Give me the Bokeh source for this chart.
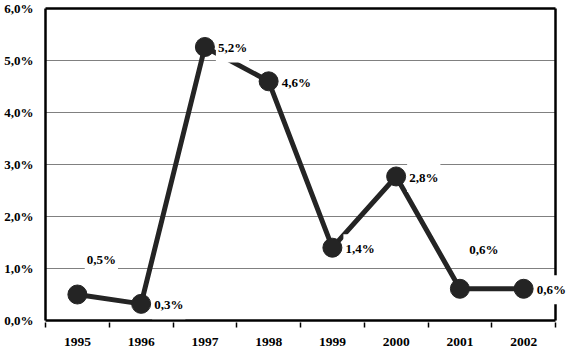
from bokeh.plotting import figure
from bokeh.models import Range1d, FixedTicker, Label, ColumnDataSource
from bokeh.embed import file_html
from bokeh.resources import INLINE

# ---- data ----
years = ["1995", "1996", "1997", "1998", "1999", "2000", "2001", "2002"]
values = [0.50, 0.32, 5.26, 4.60, 1.40, 2.77, 0.61, 0.61]
value_labels = ["0,5%", "0,3%", "5,2%", "4,6%", "1,4%", "2,8%", "0,6%", "0,6%"]
y_ticks = [0, 1, 2, 3, 4, 5, 6]
y_tick_labels = ["0,0%", "1,0%", "2,0%", "3,0%", "4,0%", "5,0%", "6,0%"]

# ---- layout / style ----
FONT = "Liberation Serif"
DARK = "#242424"
# labels placed above the point (index -> upward offset in px); others go right
labels_above = {0: 35, 6: 39}

n = len(years)
xs = [i + 0.5 for i in range(n)]
src = ColumnDataSource(dict(x=xs, y=values))

# plot box spans 0..n by y_ticks[0]..y_ticks[-1]; the frame is a bit larger so
# the box borders (and the last label) are not clipped
px_x = 510 / n            # pixels per category
px_y = 312 / (y_ticks[-1] - y_ticks[0])
pad_x = 2 / px_x
pad_y = 2 / px_y
x_end = n + 15 / px_x

p = figure(width=570, height=351, output_backend="svg", toolbar_location=None,
           x_range=Range1d(-pad_x, x_end),
           y_range=Range1d(y_ticks[0] - pad_y, y_ticks[-1] + pad_y),
           min_border_left=43, min_border_right=0, min_border_top=6,
           min_border_bottom=29)
p.background_fill_color = "white"
p.border_fill_color = "white"
p.outline_line_color = None

# x axis: labels at centres, tick marks at category boundaries
xa = p.xaxis[0]
xa.ticker = FixedTicker(ticks=xs, minor_ticks=list(range(n + 1)))
xa.major_label_overrides = {x: y for x, y in zip(xs, years)}
xa.axis_line_color = None
xa.major_tick_line_color = None
xa.major_tick_out = 0
xa.major_tick_in = 0
xa.minor_tick_line_color = "black"
xa.minor_tick_line_width = 1.5
xa.minor_tick_out = 5
xa.minor_tick_in = 0
xa.major_label_standoff = 10
xa.major_label_text_font = FONT
xa.major_label_text_font_style = "bold"
xa.major_label_text_font_size = "13.5px"
xa.major_label_text_color = "black"

ya = p.yaxis[0]
ya.ticker = FixedTicker(ticks=y_ticks)
ya.major_label_overrides = {t: l for t, l in zip(y_ticks, y_tick_labels)}
ya.axis_line_color = None
ya.major_tick_line_color = None
ya.major_tick_out = 0
ya.major_tick_in = 0
ya.minor_tick_line_color = None
ya.major_label_standoff = 10
ya.major_label_text_font = FONT
ya.major_label_text_font_style = "bold"
ya.major_label_text_font_size = "13px"
ya.major_label_text_color = "black"

p.xgrid.visible = False
p.ygrid.visible = False

# grid lines inside the box
inner = y_ticks[1:-1]
p.segment(x0=[0] * len(inner), x1=[n] * len(inner), y0=inner, y1=inner,
          line_color="#808080", line_width=1.2)
# box border
y0, y1 = y_ticks[0], y_ticks[-1]
p.segment(x0=[0, 0, 0, n], x1=[n, n, 0, n], y0=[y0, y1, y0, y0], y1=[y0, y1, y1, y1],
          line_color="black", line_width=2.5)

p.line("x", "y", source=src, line_color=DARK, line_width=5)
p.scatter("x", "y", source=src, size=19, fill_color=DARK, line_color=DARK)

for i, (x, v, t) in enumerate(zip(xs, values, value_labels)):
    if i in labels_above:
        kw = dict(x_offset=24, y_offset=labels_above[i], text_align="center")
    else:
        kw = dict(x_offset=11, y_offset=-1, text_align="left")
    p.add_layout(Label(x=x, y=v, text=t, text_baseline="middle",
                       text_font=FONT, text_font_style="bold",
                       text_font_size="13px", text_color="black",
                       background_fill_color="white",
                       padding=(2, 7), **kw))

open("out.html", "w").write(file_html(p, INLINE))
